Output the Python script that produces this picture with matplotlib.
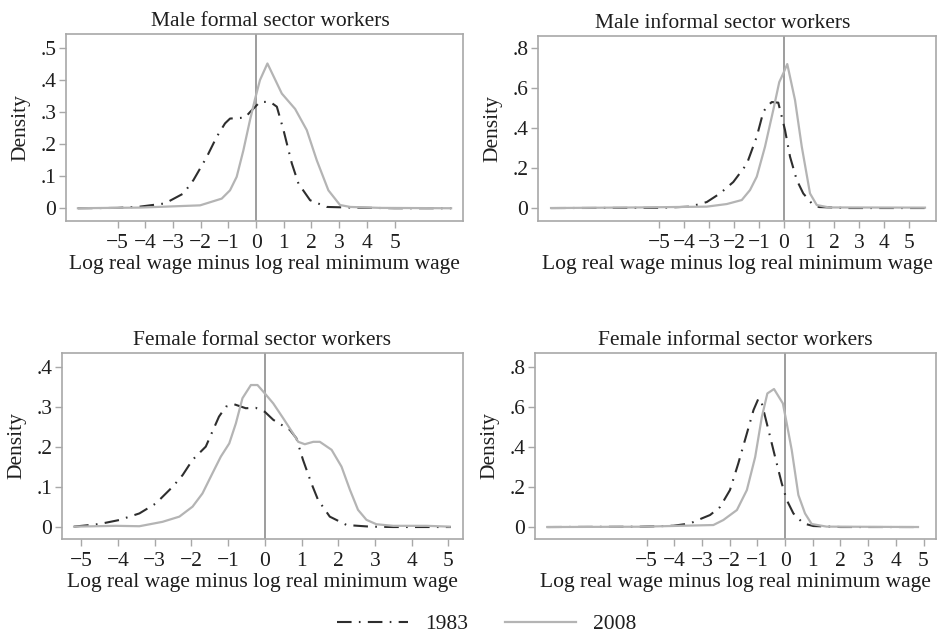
import matplotlib
matplotlib.use("Agg")
import matplotlib.pyplot as plt
from matplotlib.ticker import FuncFormatter

plt.rcParams['font.family'] = ['Liberation Serif', 'DejaVu Serif']
plt.rcParams['axes.unicode_minus'] = True

TITLES = [
    "Male formal sector workers",
    "Male informal sector workers",
    "Female formal sector workers",
    "Female informal sector workers",
]
YEARS = ["1983", "2008"]
XLABEL = "Log real wage minus log real minimum wage"
YLABEL = "Density"
XTICKS = [-5, -4, -3, -2, -1, 0, 1, 2, 3, 4, 5]
YTICKS = [
    [0, 0.1, 0.2, 0.3, 0.4, 0.5],
    [0, 0.2, 0.4, 0.6, 0.8],
    [0, 0.1, 0.2, 0.3, 0.4],
    [0, 0.2, 0.4, 0.6, 0.8],
]

# male formal
mf_x_83 = [-6.43, -5.0, -4.19, -3.29, -2.62, -2.26, -1.78, -1.42, -1.12, -0.94,
           -0.40, -0.22, 0.14, 0.51, 0.75, 0.99, 1.29, 1.53, 1.95, 2.55, 3.47,
           5.0, 7.04]
mf_y_83 = [0.0, 0.001, 0.005, 0.015, 0.046, 0.088, 0.16, 0.223, 0.265, 0.28,
           0.283, 0.30, 0.332, 0.332, 0.317, 0.244, 0.14, 0.077, 0.025, 0.004,
           0.002, 0.0, 0.0]
mf_x_08 = [-6.43, -4.19, -2.02, -1.24, -0.94, -0.70, -0.46, -0.22, -0.04, 0.14,
           0.41, 0.93, 1.41, 1.83, 2.19, 2.61, 3.03, 3.4, 4.5, 7.04]
mf_y_08 = [0.0, 0.002, 0.009, 0.03, 0.056, 0.098, 0.18, 0.275, 0.34, 0.40,
           0.452, 0.358, 0.31, 0.244, 0.15, 0.056, 0.01, 0.004, 0.001, 0.0]

# male informal
mi_x_83 = [-9.32, -5.0, -3.76, -3.09, -2.56, -2.03, -1.49, -1.09, -0.83, -0.69,
           -0.49, -0.23, -0.09, 0.04, 0.24, 0.51, 0.77, 1.11, 1.4, 2.5, 5.64]
mi_y_83 = [0.0, 0.001, 0.007, 0.03, 0.073, 0.13, 0.22, 0.357, 0.48, 0.507,
           0.53, 0.527, 0.457, 0.39, 0.257, 0.14, 0.073, 0.023, 0.005, 0.0, 0.0]
mi_x_08 = [-9.32, -5.76, -3.09, -2.29, -1.69, -1.36, -1.09, -0.76, -0.43, -0.19,
           -0.03, 0.13, 0.44, 0.71, 1.04, 1.31, 1.8, 5.64]
mi_y_08 = [0.0, 0.003, 0.007, 0.02, 0.04, 0.09, 0.157, 0.307, 0.49, 0.63,
           0.673, 0.72, 0.54, 0.307, 0.073, 0.015, 0.003, 0.002]

# female formal
ff_x_83 = [-5.2, -4.51, -3.97, -3.42, -2.97, -2.51, -2.24, -1.97, -1.61, -1.25,
           -1.06, -0.84, -0.52, -0.25, 0.0, 0.23, 0.68, 0.86, 1.04, 1.27, 1.45,
           1.77, 2.23, 2.86, 3.5, 5.07]
ff_y_83 = [0.001, 0.0075, 0.0175, 0.034, 0.059, 0.101, 0.13, 0.168, 0.201, 0.276,
           0.301, 0.307, 0.297, 0.298, 0.288, 0.268, 0.243, 0.222, 0.168, 0.109,
           0.068, 0.026, 0.005, 0.001, 0.0, 0.0]
ff_x_08 = [-5.2, -4.06, -3.42, -2.79, -2.33, -1.97, -1.70, -1.43, -1.20, -0.97,
           -0.79, -0.61, -0.38, -0.20, 0.0, 0.23, 0.50, 0.77, 0.91, 1.09, 1.32,
           1.50, 1.82, 2.09, 2.32, 2.54, 2.77, 3.04, 3.5, 4.4, 5.04]
ff_y_08 = [0.001, 0.003, 0.002, 0.013, 0.026, 0.051, 0.084, 0.134, 0.176, 0.209,
           0.259, 0.322, 0.355, 0.355, 0.334, 0.309, 0.272, 0.234, 0.213, 0.207,
           0.213, 0.213, 0.193, 0.151, 0.093, 0.043, 0.018, 0.007, 0.003, 0.003,
           0.001]

# female informal
fi_x_83 = [-8.59, -5.23, -4.03, -3.43, -3.01, -2.71, -2.35, -1.99, -1.69, -1.38,
           -1.14, -0.96, -0.84, -0.60, -0.36, -0.12, 0.06, 0.30, 0.66, 1.02,
           2.0, 4.8]
fi_y_83 = [0.0, 0.0015, 0.0065, 0.018, 0.043, 0.06, 0.10, 0.185, 0.318, 0.468,
           0.585, 0.643, 0.618, 0.485, 0.35, 0.218, 0.135, 0.068, 0.018, 0.005,
           0.0, 0.0]
fi_x_08 = [-8.59, -5.23, -3.67, -2.59, -2.23, -1.74, -1.38, -1.08, -0.84, -0.64,
           -0.40, -0.08, 0.06, 0.24, 0.48, 0.72, 0.96, 1.5, 4.8]
fi_y_08 = [0.0, 0.0015, 0.0065, 0.01, 0.035, 0.085, 0.185, 0.35, 0.55, 0.668,
           0.69, 0.618, 0.518, 0.385, 0.16, 0.068, 0.015, 0.002, 0.0]

SERIES = [
    (mf_x_83, mf_y_83, mf_x_08, mf_y_08),
    (mi_x_83, mi_y_83, mi_x_08, mi_y_08),
    (ff_x_83, ff_y_83, ff_x_08, ff_y_08),
    (fi_x_83, fi_y_83, fi_x_08, fi_y_08),
]

XLIMS = [(-6.86, 7.47), (-9.84, 6.08), (-5.53, 5.4), (-9.03, 5.45)]
YLIMS = [(-0.04, 0.544), (-0.065, 0.86), (-0.03, 0.435), (-0.06, 0.87)]
RECTS = [
    [0.0703, 0.6530, 0.4228, 0.2936],
    [0.5730, 0.6530, 0.4238, 0.2904],
    [0.0660, 0.1538, 0.4270, 0.2920],
    [0.5698, 0.1538, 0.4270, 0.2920],
]
TITLE_X = [0.515, 0.465, 0.5, 0.5]

DARK = '#2e2e2e'
LIGHT = '#b4b4b4'
FRAME = '#a8a8a8'
TEXT = '#1e1e1e'
FS = 15.5


def ytick_fmt(v, pos):
    if abs(v) < 1e-9:
        return '0'
    return ('%.1f' % v).lstrip('0')


def xtick_fmt(v, pos):
    s = '%d' % round(v)
    return s.replace('-', '\u2212')


def main():
    fig = plt.figure(figsize=(9.39, 6.37), dpi=100)
    handles = None
    for i, (x83, y83, x08, y08) in enumerate(SERIES):
        ax = fig.add_axes(RECTS[i])
        ax.axvline(0, color='#8c8c8c', lw=1.2, zorder=1)
        h1, = ax.plot(x83, y83, color=DARK, lw=1.5, dashes=(7, 3.5, 0.8, 3.5),
                      zorder=2, label=YEARS[0])
        h2, = ax.plot(x08, y08, color=LIGHT, lw=1.6, zorder=3, label=YEARS[1])
        handles = [h1, h2]
        ax.set_xlim(*XLIMS[i])
        ax.set_ylim(*YLIMS[i])
        ax.set_xticks(XTICKS)
        ax.set_yticks(YTICKS[i])
        ax.xaxis.set_major_formatter(FuncFormatter(xtick_fmt))
        ax.yaxis.set_major_formatter(FuncFormatter(ytick_fmt))
        for sp in ax.spines.values():
            sp.set_color(FRAME)
            sp.set_linewidth(1.2)
        ax.tick_params(axis='both', length=5, width=1.0, color=FRAME,
                       labelsize=FS, labelcolor=TEXT)
        ax.tick_params(axis='x', pad=4.5)
        ax.tick_params(axis='y', pad=2)
        ax.set_title(TITLES[i], fontsize=FS, color=TEXT, pad=6, x=TITLE_X[i])
        ax.set_xlabel(XLABEL, fontsize=FS, color=TEXT, labelpad=1)
        ax.set_ylabel(YLABEL, fontsize=FS, color=TEXT, labelpad=7)

    fig.legend(handles, YEARS, loc='center', bbox_to_anchor=(0.518, 0.02),
               ncol=2, frameon=False, fontsize=FS, handlelength=3.3,
               handletextpad=0.8, columnspacing=1.7, labelcolor=TEXT)
    fig.savefig('out.png', dpi=100)


if __name__ == "__main__":
    main()
